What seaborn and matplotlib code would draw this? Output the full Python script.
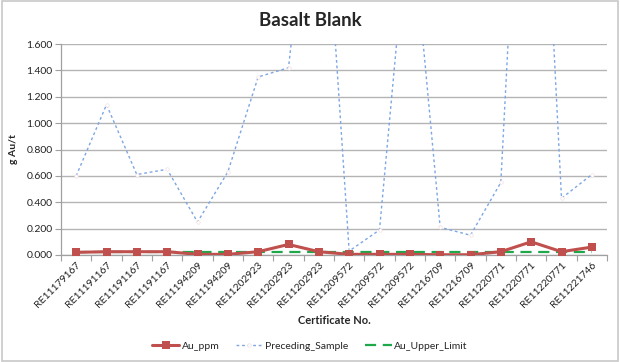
import numpy as np
import pandas as pd
import seaborn as sns
from matplotlib import pyplot as plt
from matplotlib.patches import Rectangle
from matplotlib.ticker import FormatStrFormatter, FixedLocator

# Certificate numbers along the x axis
certificates = [
    "RE11179167", "RE11191167", "RE11191167", "RE11191167", "RE11194209",
    "RE11194209", "RE11202923", "RE11202923", "RE11202923", "RE11209572",
    "RE11209572", "RE11209572", "RE11216709", "RE11216709", "RE11220771",
    "RE11220771", "RE11220771", "RE11221746",
]

# Blank assay results (g Au/t)
au_ppm = [0.020, 0.025, 0.025, 0.025, 0.005, 0.005, 0.025, 0.080, 0.025,
          0.005, 0.005, 0.005, 0.002, 0.002, 0.025, 0.100, 0.025, 0.060]

# Sample assayed just before each blank
preceding_sample = [0.60, 1.14, 0.61, 0.65, 0.25, 0.63, 1.35, 1.42, 3.50,
                    0.03, 0.19, 2.70, 0.21, 0.15, 0.55, 5.00, 0.43, 0.61]

# Upper limit for a blank
au_upper_limit = [0.025] * len(certificates)

df = pd.DataFrame({
    "idx": np.arange(len(certificates)),
    "Au_ppm": au_ppm,
    "Preceding_Sample": preceding_sample,
    "Au_Upper_Limit": au_upper_limit,
})

sns.set_style("white")
plt.rcParams["font.family"] = ["Lato", "DejaVu Sans"]

fig = plt.figure(figsize=(6.2, 3.62), dpi=100)
ax = fig.add_axes([61 / 620, 1 - 255 / 362, 546 / 620, 211 / 362])

# Chart border
fig.patches.append(Rectangle((0.003, 0.003), 0.994, 0.994, transform=fig.transFigure,
                             fill=False, edgecolor="#c8c8c8", linewidth=1.2))

sns.lineplot(data=df, x="idx", y="Preceding_Sample", ax=ax, color="#7da6e3",
             linestyle=(0, (2, 2)), linewidth=1.0, marker="o", markersize=2.5,
             markerfacecolor="white", markeredgecolor="#f0d8d8", markeredgewidth=0.4,
             label="Preceding_Sample", zorder=2)
sns.lineplot(data=df, x="idx", y="Au_ppm", ax=ax, color="#c0504d", linewidth=2.2,
             marker="s", markersize=6, markeredgewidth=0, label="Au_ppm", zorder=4)
sns.lineplot(data=df, x="idx", y="Au_Upper_Limit", ax=ax, color="#1fa84a",
             linestyle=(0, (5, 3)), linewidth=1.6, label="Au_Upper_Limit", zorder=3)

ax.set_xlim(-0.5, len(certificates) - 0.5)
ax.set_ylim(0, 1.6)
ax.set_yticks(np.arange(0, 1.61, 0.2))
ax.yaxis.set_major_formatter(FormatStrFormatter("%.3f"))
ax.yaxis.grid(True, color="#b4b4b4", linewidth=1.0)
ax.set_axisbelow(True)

ax.set_xticks(df["idx"])
ax.set_xticklabels(certificates, rotation=45, ha="right", rotation_mode="anchor",
                   fontsize=7.5, color="#222222")
ax.tick_params(axis="x", which="major", length=0, pad=4)
ax.xaxis.set_minor_locator(FixedLocator(np.arange(-0.5, len(certificates), 1.0)))
ax.tick_params(axis="x", which="minor", length=4, color="#a0a0a0", width=0.8, bottom=True)
ax.tick_params(axis="y", length=4, color="#a0a0a0", width=0.8, labelsize=7.5,
               labelcolor="#222222", left=True, pad=2)

for side in ["top", "right"]:
    ax.spines[side].set_visible(False)
for side in ["left", "bottom"]:
    ax.spines[side].set_color("#a0a0a0")
    ax.spines[side].set_linewidth(0.9)

ax.set_xlabel("Certificate No.", fontsize=8, fontweight="bold", labelpad=4)
ax.set_ylabel("g Au/t", fontsize=7.5, fontweight="bold", labelpad=6)
fig.text(0.5, 1 - 20 / 362, "Basalt Blank", ha="center", va="center",
         fontsize=13.5, fontweight="bold")

handles, labels = ax.get_legend_handles_labels()
order = [labels.index(n) for n in ["Au_ppm", "Preceding_Sample", "Au_Upper_Limit"]]
ax.legend([handles[i] for i in order], [labels[i] for i in order],
          loc="center", bbox_to_anchor=(0.5, 1 - 346 / 362), bbox_transform=fig.transFigure,
          ncol=3, frameon=False, fontsize=7.5, handlelength=2.6, columnspacing=1.6,
          handletextpad=0.2)

fig.savefig("out.png", dpi=100)
